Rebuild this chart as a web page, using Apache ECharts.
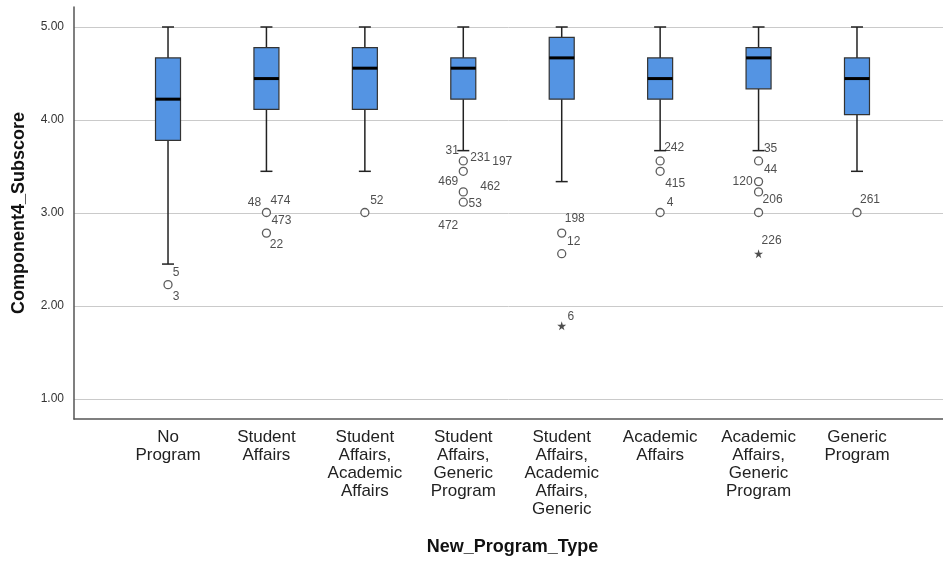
<!DOCTYPE html>
<html>
<head>
<meta charset="utf-8">
<script src="https://cdn.jsdelivr.net/npm/echarts@6/dist/echarts.min.js"></script>
<style>html,body{margin:0;padding:0;background:#fff}#c{width:943px;height:561px}</style>
</head>
<body>
<div id="c"></div>
<script>
// ---- data ----
const categories = ['No\nProgram', 'Student\nAffairs', 'Student\nAffairs,\nAcademic\nAffairs', 'Student\nAffairs,\nGeneric\nProgram', 'Student\nAffairs,\nAcademic\nAffairs,\nGeneric', 'Academic\nAffairs', 'Academic\nAffairs,\nGeneric\nProgram', 'Generic\nProgram'];
const whiskerLow  = [2.444, 3.444, 3.444, 3.667, 3.333, 3.667, 3.667, 3.444];
const q1          = [3.778, 4.111, 4.111, 4.222, 4.222, 4.222, 4.333, 4.056];
const median      = [4.222, 4.444, 4.556, 4.556, 4.667, 4.444, 4.667, 4.444];
const q3          = [4.667, 4.778, 4.778, 4.667, 4.889, 4.667, 4.778, 4.667];
const whiskerHigh = [5, 5, 5, 5, 5, 5, 5, 5];
// outliers: [category index, value]
const outliers = [[0,2.222],[1,3.0],[1,2.778],[2,3.0],[3,3.556],[3,3.444],[3,3.222],[3,3.111],[4,2.778],[4,2.556],[5,3.556],[5,3.444],[5,3.0],[6,3.556],[6,3.333],[6,3.222],[6,3.0],[7,3.0]];
const extremes = [[4,1.778],[6,2.556]];
// case labels: [category index, value, case id]
const caseLabels = [[0,2.222,'5'],[0,2.222,'3'],[1,3.0,'48'],[1,3.0,'474'],[1,3.0,'473'],[1,2.778,'22'],[2,3.0,'52'],
  [3,3.556,'31'],[3,3.556,'231'],[3,3.556,'197'],[3,3.444,'469'],[3,3.222,'462'],[3,3.111,'53'],[3,3.111,'472'],
  [4,2.778,'198'],[4,2.556,'12'],[4,1.778,'6'],[5,3.556,'242'],[5,3.444,'415'],[5,3.0,'4'],
  [6,3.556,'35'],[6,3.556,'44'],[6,3.333,'120'],[6,3.222,'206'],[6,2.556,'226'],[7,3.0,'261']];
const yTicks = [1, 2, 3, 4, 5];

// ---- layout/style (not data) ----
const labelOffsets = [[8,-12],[8,12],[-12,-10],[14,-12],[15,8],[10,12],[12,-12],
  [-11,-10],[17,-3],[39,1],[-15,10],[27,-5],[12,1],[-15,23],
  [13,-14],[12,-12],[9,-9],[14,-13],[15,12],[10,-10],
  [12,-12],[12,9],[-16,0],[14,8],[13,-13],[13,-13]];
const FONT = '"Liberation Sans", Arial, sans-serif';
const boxColor = '#5494e3';
const boxData = categories.map((c, i) => [i, whiskerLow[i], q1[i], median[i], q3[i], whiskerHigh[i]]);
const GRID_TOP = 27, GRID_H = 372;
const CAT_LEFT = 118.8, CAT_W = 787.4;

const chart = echarts.init(document.getElementById('c'), null, {renderer: 'canvas'});
chart.setOption({
  animation: false,
  backgroundColor: '#fff',
  grid: [
    {left: 74, right: 0, top: 7, height: 412},
    {left: 74, right: 0, top: GRID_TOP, height: GRID_H},
    {left: CAT_LEFT, width: CAT_W, top: GRID_TOP, height: GRID_H}
  ],
  xAxis: [
    {gridIndex: 0, type: 'value', min: 0, max: 1, axisLine: {show: true, onZero: false, lineStyle: {color: '#555', width: 1.5}},
      axisTick: {show: false}, axisLabel: {show: false}, splitLine: {show: false}},
    {gridIndex: 1, type: 'value', min: 0, max: 1, show: false},
    {gridIndex: 2, type: 'category', data: categories, boundaryGap: true,
      axisLine: {show: false}, axisTick: {show: false}, splitLine: {show: false},
      axisLabel: {interval: 0, margin: 30, fontFamily: FONT, fontSize: 17, lineHeight: 18, color: '#222', verticalAlign: 'top'},
      name: 'New_Program_Type', nameLocation: 'middle', nameGap: 140,
      nameTextStyle: {fontFamily: FONT, fontSize: 18, fontWeight: 'bold', color: '#111'}}
  ],
  yAxis: [
    {gridIndex: 0, type: 'value', min: 0, max: 1, axisLine: {show: true, onZero: false, lineStyle: {color: '#555', width: 1.5}},
      axisTick: {show: false}, axisLabel: {show: false}, splitLine: {show: false}},
    {gridIndex: 1, type: 'value', min: yTicks[0], max: yTicks[yTicks.length-1], interval: 1,
      axisLine: {show: false}, axisTick: {show: false},
      splitLine: {show: true, lineStyle: {color: '#cacaca', width: 1}},
      axisLabel: {margin: 10, fontFamily: FONT, fontSize: 12, color: '#333', formatter: v => v.toFixed(2)},
      name: 'Component4_Subscore', nameLocation: 'middle', nameRotate: 90, nameGap: 46,
      nameTextStyle: {fontFamily: FONT, fontSize: 18, fontWeight: 'bold', color: '#111'}},
    {gridIndex: 2, type: 'value', min: yTicks[0], max: yTicks[yTicks.length-1], show: false}
  ],
  series: [
    {
      type: 'custom', xAxisIndex: 2, yAxisIndex: 2, data: boxData, z: 5,
      renderItem: function (params, api) {
        const i = api.value(0);
        const pLow = api.coord([i, api.value(1)]);
        const pQ1 = api.coord([i, api.value(2)]);
        const pMed = api.coord([i, api.value(3)]);
        const pQ3 = api.coord([i, api.value(4)]);
        const pHigh = api.coord([i, api.value(5)]);
        const x = pMed[0];
        const bw = 25, cw = 12;
        const ls = {stroke: '#222', lineWidth: 1.5};
        return {
          type: 'group',
          children: [
            {type: 'line', shape: {x1: x, y1: pQ1[1], x2: x, y2: pLow[1]}, style: ls},
            {type: 'line', shape: {x1: x, y1: pQ3[1], x2: x, y2: pHigh[1]}, style: ls},
            {type: 'line', shape: {x1: x - cw/2, y1: pLow[1], x2: x + cw/2, y2: pLow[1]}, style: ls},
            {type: 'line', shape: {x1: x - cw/2, y1: pHigh[1], x2: x + cw/2, y2: pHigh[1]}, style: ls},
            {type: 'rect', shape: {x: x - bw/2, y: pQ3[1], width: bw, height: pQ1[1] - pQ3[1]},
              style: {fill: boxColor, stroke: '#333', lineWidth: 1.2}},
            {type: 'line', shape: {x1: x - bw/2, y1: pMed[1], x2: x + bw/2, y2: pMed[1]}, style: {stroke: '#000', lineWidth: 3}}
          ]
        };
      }
    },
    {
      type: 'scatter', xAxisIndex: 2, yAxisIndex: 2, data: outliers, symbol: 'circle', symbolSize: 8, z: 6,
      itemStyle: {color: '#fff', borderColor: '#333', borderWidth: 1.3}
    },
    {
      type: 'scatter', xAxisIndex: 2, yAxisIndex: 2, data: extremes, z: 6,
      symbol: 'path://M50,0 L61,35 L98,35 L68,57 L79,91 L50,70 L21,91 L32,57 L2,35 L39,35 Z', symbolSize: 9,
      itemStyle: {color: '#222'}
    },
    {
      type: 'scatter', xAxisIndex: 2, yAxisIndex: 2, symbolSize: 0, z: 7, silent: true,
      data: caseLabels.map((d, k) => ({value: [d[0], d[1]], name: d[2],
        label: {offset: labelOffsets[k]}})),
      label: {show: true, position: 'inside', formatter: p => p.name, fontFamily: FONT, fontSize: 12, color: '#222'}
    }
  ]
});
</script>
</body>
</html>
